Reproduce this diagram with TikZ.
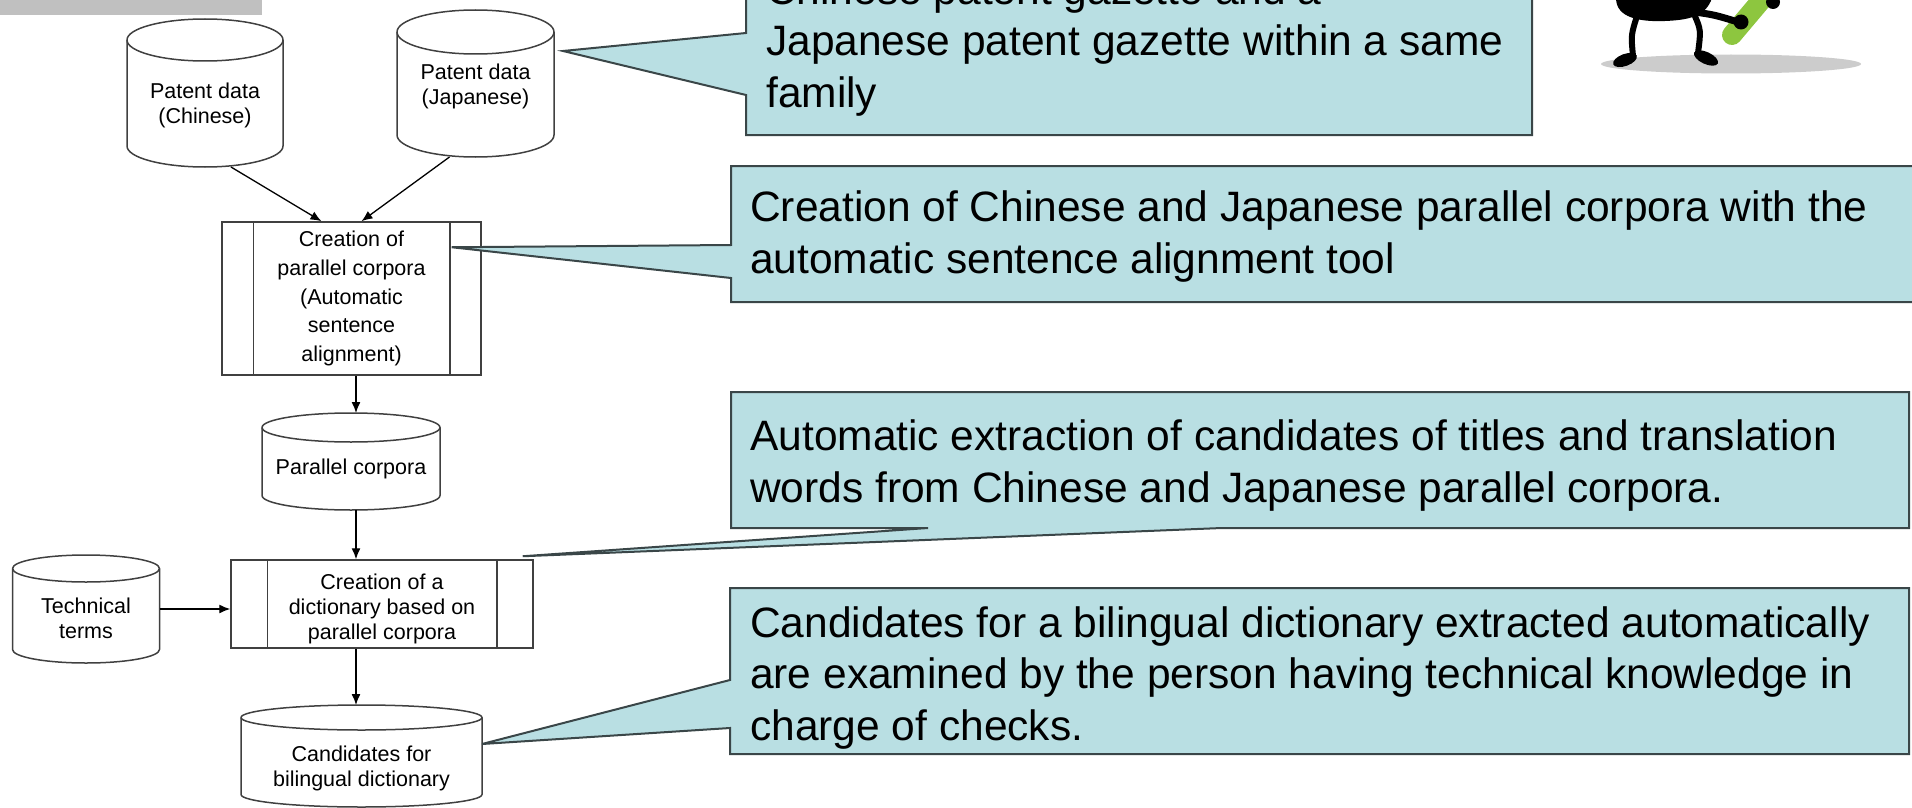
\documentclass[tikz,border=0pt]{standalone}
\usepackage{fontspec}
\setmainfont{Liberation Sans}
\usepackage{tikz}
\usetikzlibrary{positioning,arrows.meta}

\definecolor{linegray}{HTML}{404040}
\definecolor{notefill}{HTML}{B9DFE3}
\definecolor{noteedge}{HTML}{3A4648}
\definecolor{bargray}{HTML}{C0C0C0}
\definecolor{shadegray}{HTML}{CCCCCC}
\definecolor{bugreen}{HTML}{8DC63F}

\newcommand{\fc}{\fontsize{21.5}{25}\selectfont}
\newcommand{\nt}{\fontsize{42.5}{51.5}\selectfont}
% nudge a line up or down without changing its box
\newcommand{\up}[2]{\raisebox{#1}[\height][\depth]{#2}}

\tikzset{
  db/.style={rectangle, inner sep=0, outer sep=0, align=center, font=\fc, anchor=north},
  procbox/.style={rectangle, draw=linegray, line width=1.5, fill=white,
    inner sep=0, align=center, font=\fc},
  flow/.style={-{Latex[length=11,width=9]}, line width=1.3},
  notebox/.style={fill=notefill, draw=noteedge, line width=2, line join=miter},
  notetext/.style={inner sep=0, anchor=base west, align=left, font=\nt},
}

\begin{document}
\begin{tikzpicture}[x=1pt,y=-1pt]

        \clip (0,0) rectangle (1912,808);

        % Top strip
        \fill[bargray] (0,0) rectangle (262,15);

        % Data stores (placed by their top)
        \node[db, minimum width=156, minimum height=148] (chn) at (205,19)
            {\up{-12pt}{Patent data}\\\up{-12pt}{(Chinese)}};
        \node[db, minimum width=157, minimum height=147] (jpn) at (475.5,10)
            {\up{-3pt}{Patent data}\\\up{-3pt}{(Japanese)}};
        \node[db, minimum width=178, minimum height=97] (par) at (351,413)
            {\up{-7pt}{Parallel corpora}};
        \node[db, minimum width=147, minimum height=108] (tech) at (86,555)
            {\up{-9pt}{Technical}\\\up{-9pt}{terms}};
        \node[db, minimum width=241, minimum height=102] (cand) at (361.5,705)
            {\up{-12pt}{Candidates for}\\\up{-12pt}{bilingual dictionary}};

        % Cylinder outlines round the data stores
        \foreach \nm/\hw/\ry in {chn/78/21, jpn/78.5/22, par/89/14.5, tech/73.5/13.5, cand/120.5/12.5} {
            \draw[linegray, line width=1.5]
                ([yshift=-\ry pt]\nm.north west) -- ([yshift=\ry pt]\nm.south west)
                arc[start angle=180, end angle=360, x radius=\hw pt, y radius=\ry pt]
                -- ([yshift=-\ry pt]\nm.north east)
                arc[start angle=0, end angle=180, x radius=\hw pt, y radius=\ry pt];
            \draw[linegray, line width=1.5] ([yshift=-\ry pt]\nm.north west)
                arc[start angle=180, end angle=360, x radius=\hw pt, y radius=\ry pt];
        }

        % Processes
        \node[procbox, minimum width=259, minimum height=153, font=\fontsize{21.5}{28.7}\selectfont] (corp) at (351.5,298.5)
            {Creation of\\parallel corpora\\(Automatic\\sentence\\alignment)};
        \node[procbox, minimum width=302, minimum height=88] (dict) at (382,604)
            {\up{-5pt}{Creation of a}\\\up{-5pt}{dictionary based on}\\\up{-5pt}{parallel corpora}};

        % Side bars of the process boxes
        \foreach \b/\d in {corp/32, dict/37} {
            \draw[linegray, line width=1.5] ([xshift=\d]\b.north west) -- ([xshift=\d]\b.south west);
            \draw[linegray, line width=1.5] ([xshift=-\d]\b.north east) -- ([xshift=-\d]\b.south east);
        }

        % Arrows
        \draw[flow] ([xshift=26]chn.south) -- ([xshift=-30]corp.north);
        \draw[flow] ([xshift=-26]jpn.south) -- ([xshift=10]corp.north);
        \draw[flow] ([xshift=4.5]corp.south) -- ([xshift=5]par.north);
        \draw[flow] ([xshift=5]par.south) -- ([xshift=5]par.south |- dict.north);
        \draw[flow] (tech.east) -- (tech.east -| dict.west);
        \draw[flow] ([xshift=-26]dict.south) -- ([xshift=-26]dict.south |- cand.north);

        % Callout tips
        \coordinate (tipA) at (563,51);
        \coordinate (tipB) at ([xshift=-30,yshift=-26]corp.north east);
        \coordinate (tipC) at ([xshift=-11,yshift=3]dict.north east);
        \coordinate (tipD) at ([yshift=12]cand.east);

        % Callouts
        \draw[notebox] (746,-10) -- (746,33) -- (tipA) -- (746,95) -- (746,135) -- (1532,135) -- (1532,-10) -- cycle;
        \draw[notebox] (731,166) -- (731,245) -- (tipB) -- (731,278) -- (731,302) -- (1930,302) -- (1930,166) -- cycle;
        \draw[notebox] (731,392) -- (731,528) -- (928,528) -- (tipC) -- (1222,528) -- (1909,528) -- (1909,392) -- cycle;
        \draw[notebox] (730,588) -- (730,680) -- (tipD) -- (730,728) -- (730,754) -- (1909,754) -- (1909,588) -- cycle;

        \node[notetext] (noteA) at (766,107) {Chinese patent gazette and a\\Japanese patent gazette within a same\\family};
        \node[notetext] (noteB) at (750,273) {Creation of Chinese and Japanese parallel corpora with the\\automatic sentence alignment tool};
        \node[notetext] (noteC) at (750,502) {Automatic extraction of candidates of titles and translation\\words from Chinese and Japanese parallel corpora.};
        \node[notetext] (noteD) at (750,740) {Candidates for a bilingual dictionary extracted automatically\\are examined by the person having technical knowledge in\\charge of checks.};

        % Little mascot in the corner
        \fill[shadegray] (1731,64) ellipse [x radius=130, y radius=9.5];
        \draw[bugreen, line width=20, line cap=round] (1732,35) -- (1770,-10);
        \fill (1616,-2) .. controls (1616,18) and (1640,22) .. (1665,21) .. controls (1690,20) and (1706,16) .. (1712,-2) -- cycle;
        \draw[line width=6] (1637,16) .. controls (1631,35) .. (1633,56);
        \draw[line width=6] (1694,14) .. controls (1701,30) .. (1698,53);
        \draw[line width=7] (1695,12) .. controls (1715,15) .. (1738,22);
        \fill[rotate around={20:(1625,60)}] (1625,60) ellipse [x radius=12.5, y radius=6];
        \fill[rotate around={-25:(1706,58)}] (1706,58) ellipse [x radius=13, y radius=6];
        \fill (1741,22) circle (7.5);
        \fill (1773,2) circle (7);

    \end{tikzpicture}
\end{document}
